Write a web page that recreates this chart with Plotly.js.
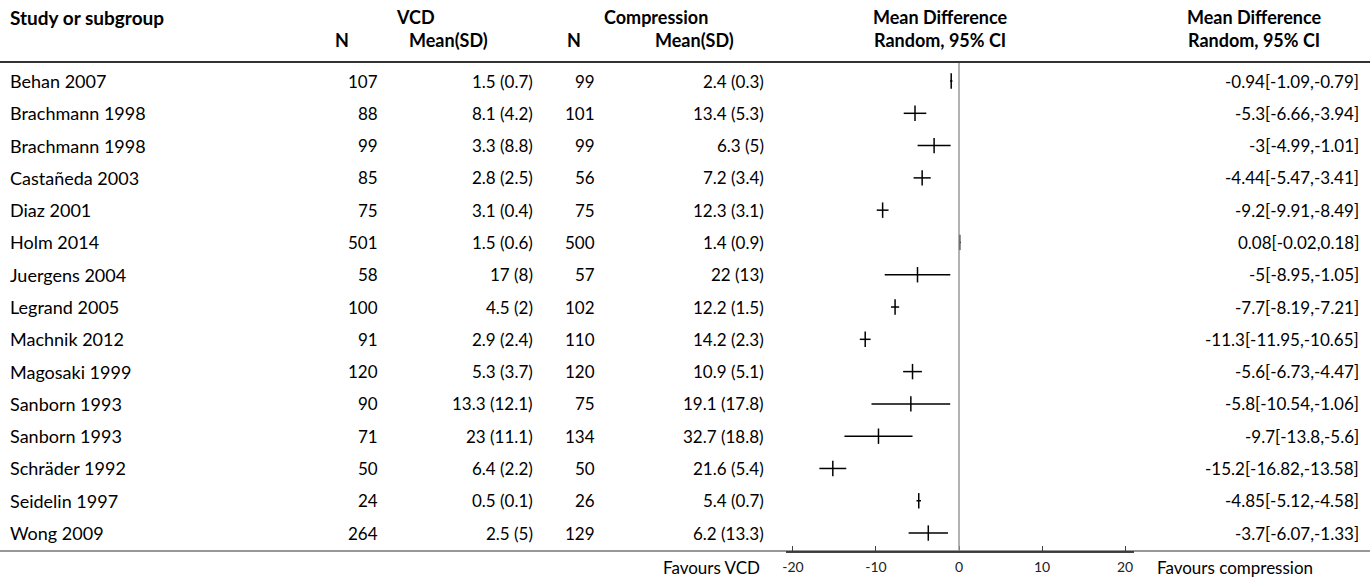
<!DOCTYPE html>
<html>
<head>
<meta charset="utf-8">
<script src="https://cdn.plot.ly/plotly-3.0.1.min.js"></script>
<style>html,body{margin:0;padding:0;background:#fff;}#chart{width:1370px;height:580px;}</style>
</head>
<body>
<div id="chart"></div>
<script>
const studies = ["Behan 2007","Brachmann 1998","Brachmann 1998","Castañeda 2003","Diaz 2001","Holm 2014","Juergens 2004","Legrand 2005","Machnik 2012","Magosaki 1999","Sanborn 1993","Sanborn 1993","Schräder 1992","Seidelin 1997","Wong 2009"];
const vcdN = [107,88,99,85,75,501,58,100,91,120,90,71,50,24,264];
const vcdMean = [1.5,8.1,3.3,2.8,3.1,1.5,17,4.5,2.9,5.3,13.3,23,6.4,0.5,2.5];
const vcdSD = [0.7,4.2,8.8,2.5,0.4,0.6,8,2,2.4,3.7,12.1,11.1,2.2,0.1,5];
const compN = [99,101,99,56,75,500,57,102,110,120,75,134,50,26,129];
const compMean = [2.4,13.4,6.3,7.2,12.3,1.4,22,12.2,14.2,10.9,19.1,32.7,21.6,5.4,6.2];
const compSD = [0.3,5.3,5,3.4,3.1,0.9,13,1.5,2.3,5.1,17.8,18.8,5.4,0.7,13.3];
const md = [-0.94,-5.3,-3,-4.44,-9.2,0.08,-5,-7.7,-11.3,-5.6,-5.8,-9.7,-15.2,-4.85,-3.7];
const ciLo = [-1.09,-6.66,-4.99,-5.47,-9.91,-0.02,-8.95,-8.19,-11.95,-6.73,-10.54,-13.8,-16.82,-5.12,-6.07];
const ciHi = [-0.79,-3.94,-1.01,-3.41,-8.49,0.18,-1.05,-7.21,-10.65,-4.47,-1.06,-5.6,-13.58,-4.58,-1.33];
const tickVals = [-20,-10,0,10,20];
const headerTop = ["Study or subgroup","VCD","Compression","Mean Difference","Mean Difference"];
const headerSub = ["N","Mean(SD)","N","Mean(SD)","Random, 95% CI","Random, 95% CI"];
const favourLeft = "Favours VCD";
const favourRight = "Favours compression";

const W = 1370, PH = 551;
const FONT = "Lato, 'Noto Sans', sans-serif";
const HS = 18, DS = 17, NS = 18;
const rows = studies.map((_, i) => i);
const yTop = -2.509, yBot = 14.556;
function py(p){ return 1 - p / PH; } // paper y from pixel
function px(p){ return p / W; }

const ann = [];
function add(text, x, y, anchor, bold, size, yref){
  ann.push({text: bold ? "<b>" + text + "</b>" : text, x: px(x), xref: "paper", y: y, yref: yref || "paper",
    xanchor: anchor, yanchor: "middle", showarrow: false, font: {family: FONT, size: size, color: "#000"}});
}
// headers
add(headerTop[0], 8, py(17), "left", true, 19);
add(headerTop[1], 415, py(17), "center", true, HS);
add(headerTop[2], 656, py(17), "center", true, HS);
add(headerTop[3], 940, py(17), "center", true, HS);
add(headerTop[4], 1254, py(17), "center", true, HS);
add(headerSub[0], 342, py(40), "center", true, HS);
add(headerSub[1], 448, py(40), "center", true, HS);
add(headerSub[2], 574, py(40), "center", true, HS);
add(headerSub[3], 694, py(40), "center", true, HS);
add(headerSub[4], 940, py(40), "center", true, HS);
add(headerSub[5], 1254, py(40), "center", true, HS);

rows.forEach(i => {
  add(studies[i], 8, i, "left", false, NS, "y");
  add(String(vcdN[i]), 380, i, "right", false, DS, "y");
  add(vcdMean[i] + " (" + vcdSD[i] + ")", 535, i, "right", false, DS, "y");
  add(String(compN[i]), 597, i, "right", false, DS, "y");
  add(compMean[i] + " (" + compSD[i] + ")", 766, i, "right", false, DS, "y");
  add(md[i] + "[" + ciLo[i] + "," + ciHi[i] + "]", 1361, i, "right", false, DS, "y");
});
add(favourLeft, 762, py(567), "right", false, DS);
add(favourRight, 1155, py(567), "left", false, DS);

const trace = {
  type: "scatter", mode: "markers", x: md, y: rows,
  marker: {symbol: "line-ns", size: 11, color: "#000", line: {width: 1.5, color: "#000"}},
  error_x: {type: "data", symmetric: false,
    array: md.map((m, i) => ciHi[i] - m), arrayminus: md.map((m, i) => m - ciLo[i]),
    width: 0, thickness: 1.5, color: "#000"},
  hoverinfo: "skip", showlegend: false
};

const layout = {
  width: W, height: 580, margin: {l: 0, r: 0, t: 0, b: 29},
  paper_bgcolor: "#fff", plot_bgcolor: "rgba(0,0,0,0)",
  xaxis: {domain: [786 / W, 1134 / W], range: [-20.84, 21.08], showgrid: false, zeroline: false,
    showline: true, linecolor: "#444", linewidth: 1.5, ticks: "inside", ticklen: 5, tickcolor: "#444", tickwidth: 1,
    tickvals: tickVals, ticktext: tickVals.map(String), tickfont: {family: FONT, size: 14, color: "#222"},
    ticklabelstandoff: 3},
  yaxis: {range: [yBot, yTop], visible: false, showgrid: false, zeroline: false},
  annotations: ann,
  shapes: [
    {type: "line", xref: "paper", yref: "paper", x0: 0, x1: 1, y0: py(62), y1: py(62), line: {color: "#333", width: 2}},
    {type: "line", xref: "paper", yref: "paper", x0: 0, x1: 1, y0: 0, y1: 0, line: {color: "#333", width: 1.2}},
    {type: "line", xref: "x", yref: "paper", x0: 0, x1: 0, y0: py(63), y1: 0, line: {color: "#999", width: 1.5}}
  ]
};
Plotly.newPlot("chart", [trace], layout, {displayModeBar: false, staticPlot: true});
</script>
</body>
</html>
